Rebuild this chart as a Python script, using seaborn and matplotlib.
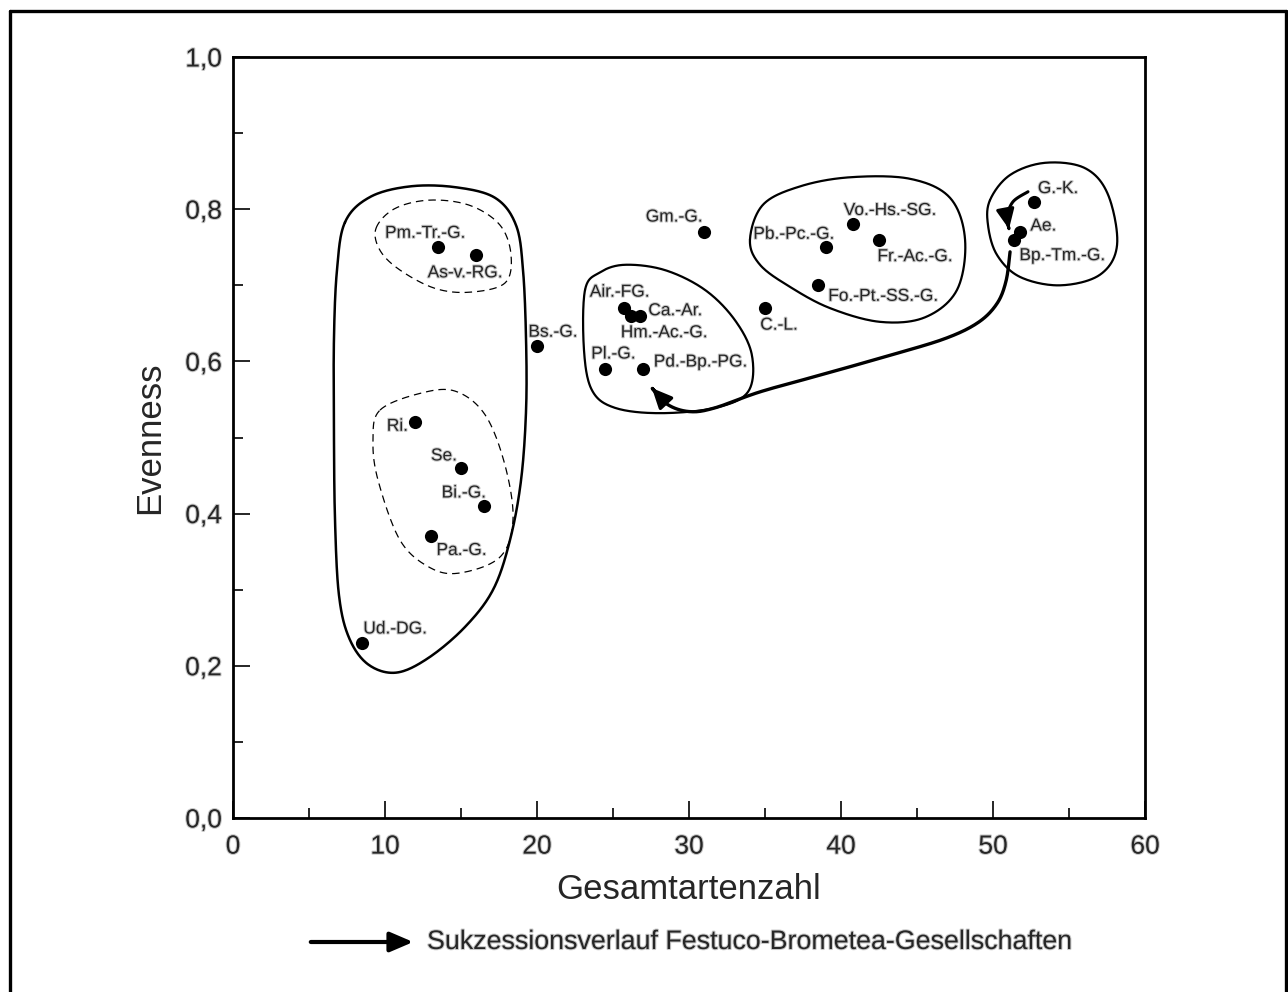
import numpy as np
import pandas as pd
import seaborn as sns
import matplotlib
matplotlib.use("Agg")
from matplotlib import pyplot as plt
from matplotlib.patches import FancyArrowPatch
from matplotlib.path import Path
from matplotlib.lines import Line2D
from matplotlib.ticker import FuncFormatter, MultipleLocator
import matplotlib.patheffects as pe

# Gesellschaften: Gesamtartenzahl / Evenness
names = ["Pm.-Tr.-G.", "As-v.-RG.", "Ri.", "Se.", "Bi.-G.", "Pa.-G.", "Ud.-DG.",
         "Bs.-G.", "Air.-FG.", "Ca.-Ar.", "Hm.-Ac.-G.", "Pl.-G.", "Pd.-Bp.-PG.",
         "Gm.-G.", "C.-L.", "Pb.-Pc.-G.", "Vo.-Hs.-SG.", "Fr.-Ac.-G.", "Fo.-Pt.-SS.-G.",
         "G.-K.", "Ae.", "Bp.-Tm.-G."]
artenzahl = [13.5, 16.0, 12.0, 15.0, 16.5, 13.0, 8.5,
             20.0, 25.7, 26.8, 26.2, 24.5, 27.0,
             31.0, 35.0, 39.0, 40.8, 42.5, 38.5,
             52.7, 51.8, 51.4]
evenness = [0.75, 0.74, 0.52, 0.46, 0.41, 0.37, 0.23,
            0.62, 0.67, 0.66, 0.66, 0.59, 0.59,
            0.77, 0.67, 0.75, 0.78, 0.76, 0.70,
            0.81, 0.77, 0.76]

# label offsets (pixels) relative to the dot
label_off = [(-13, 14), (-11, -18), (-18, -4), (-17, 12), (-20, 13), (31, -14), (33, 14),
             (16, 14), (-4, 16), (35, 5), (33, -17), (8, 15), (57, 7),
             (-30, 15), (14, -17), (-32, 13), (37, 14), (36, -17), (65, -11),
             (24, 13), (23, 6), (48, -16)]

# outlines of the groups (data units)
big_loop_x = [7.37, 9.01, 11.64, 14.61, 17.24, 18.62, 19.08, 19.28, 19.28, 18.95, 18.22,
              17.11, 15.26, 12.83, 10.72, 8.88, 7.63, 6.97, 6.71, 6.64, 6.64, 6.84]
big_loop_y = [0.783, 0.816, 0.830, 0.829, 0.815, 0.779, 0.720, 0.628, 0.536, 0.444, 0.365,
              0.300, 0.251, 0.210, 0.191, 0.202, 0.237, 0.293, 0.392, 0.510, 0.628, 0.720]
dash_top_x = [9.41, 10.66, 12.96, 15.59, 17.57, 18.29, 17.89, 15.59, 13.29, 10.99, 9.67]
dash_top_y = [0.775, 0.801, 0.812, 0.805, 0.779, 0.740, 0.703, 0.691, 0.696, 0.720, 0.746]
dash_bot_x = [9.67, 12.30, 14.61, 16.58, 17.89, 18.42, 17.57, 14.93, 12.96, 10.99, 9.54, 9.21]
dash_bot_y = [0.536, 0.558, 0.561, 0.530, 0.464, 0.392, 0.343, 0.322, 0.329, 0.365, 0.444, 0.497]
mid_loop_x = [23.16, 24.14, 25.79, 28.42, 31.05, 33.03, 34.14, 33.88, 31.71, 28.09, 25.13, 23.62, 23.09]
mid_loop_y = [0.694, 0.717, 0.727, 0.720, 0.694, 0.654, 0.608, 0.560, 0.539, 0.532, 0.539, 0.562, 0.615]
right_loop_x = [34.01, 34.87, 37.30, 40.59, 44.54, 47.17, 48.16, 47.63, 45.53, 42.57, 39.28, 36.64, 34.67]
right_loop_y = [0.760, 0.806, 0.830, 0.842, 0.840, 0.815, 0.760, 0.694, 0.658, 0.652, 0.670, 0.698, 0.727]
far_loop_x = [49.80, 51.12, 53.42, 56.05, 57.57, 58.16, 57.04, 54.41, 51.78, 50.26, 49.67]
far_loop_y = [0.812, 0.845, 0.861, 0.854, 0.819, 0.753, 0.714, 0.700, 0.711, 0.740, 0.779]

# succession path (Bp.-Tm.-G. -> Pd.-Bp.-PG.) and short arrow (G.-K. -> Bp.-Tm.-G.)
path_x = [51.12, 50.86, 50.26, 49.01, 46.84, 43.22, 38.62, 34.67, 31.71, 30.07, 28.62, 27.56]
path_y = [0.744, 0.706, 0.676, 0.651, 0.630, 0.608, 0.582, 0.560, 0.539, 0.534, 0.543, 0.565]
short_x = [52.30, 51.32, 50.92, 51.05]
short_y = [0.823, 0.810, 0.790, 0.774]

df = pd.DataFrame({"name": names, "Gesamtartenzahl": artenzahl, "Evenness": evenness})


def catmull(xs, ys, closed=True, n=24):
    P = np.column_stack([xs, ys])
    m = len(P)
    if not closed:
        P = np.vstack([P[0], P, P[-1]])
    segs = []
    rng = range(m) if closed else range(1, m)
    t = np.linspace(0, 1, n, endpoint=False)[:, None]
    for i in rng:
        if closed:
            p0, p1, p2, p3 = P[(i - 1) % m], P[i], P[(i + 1) % m], P[(i + 2) % m]
        else:
            p0, p1, p2, p3 = P[i - 1], P[i], P[i + 1], P[i + 2]
        segs.append(0.5 * (2 * p1 + (-p0 + p2) * t + (2 * p0 - 5 * p1 + 4 * p2 - p3) * t ** 2
                           + (-p0 + 3 * p1 - 3 * p2 + p3) * t ** 3))
    out = np.vstack(segs)
    end = P[0] if closed else P[-2]
    return np.vstack([out, end])


sns.set_style("ticks")
plt.rcParams["font.family"] = ["Liberation Sans", "DejaVu Sans"]

fig = plt.figure(figsize=(12.88, 9.92), dpi=100)
ax = fig.add_axes([0.1809, 0.1754, 0.7081, 0.7671])

sns.scatterplot(data=df, x="Gesamtartenzahl", y="Evenness", color="black", s=90,
                linewidth=0, legend=False, ax=ax, zorder=5)

halo = [pe.withStroke(linewidth=1.5, foreground="#c8c8c8")]
for nm, xv, yv, off in zip(names, artenzahl, evenness, label_off):
    ax.annotate(nm, (xv, yv), xytext=off, textcoords="offset pixels", ha="center",
                va="center", fontsize=12.5, path_effects=halo, zorder=6)

for xs, ys, ls, lw in [(big_loop_x, big_loop_y, "-", 1.8),
                       (dash_top_x, dash_top_y, (0, (6, 4)), 0.9),
                       (dash_bot_x, dash_bot_y, (0, (6, 4)), 0.9),
                       (mid_loop_x, mid_loop_y, "-", 1.6),
                       (right_loop_x, right_loop_y, "-", 1.6),
                       (far_loop_x, far_loop_y, "-", 1.6)]:
    c = catmull(xs, ys)
    ax.plot(c[:, 0], c[:, 1], color="black", linestyle=ls, linewidth=lw)

for xs, ys, lw in [(path_x, path_y, 2.4), (short_x, short_y, 2.2)]:
    c = catmull(xs, ys, closed=False)
    ax.add_patch(FancyArrowPatch(path=Path(c), arrowstyle="-|>,head_length=12,head_width=5.5",
                                 color="black", linewidth=lw, mutation_scale=1, zorder=4))

ax.set_xlim(0, 60)
ax.set_ylim(0, 1.0)
ax.xaxis.set_major_locator(MultipleLocator(10))
ax.xaxis.set_minor_locator(MultipleLocator(5))
ax.yaxis.set_major_locator(MultipleLocator(0.2))
ax.yaxis.set_minor_locator(MultipleLocator(0.1))
ax.yaxis.set_major_formatter(FuncFormatter(lambda v, p: f"{v:.1f}".replace(".", ",")))
ax.tick_params(which="major", direction="in", length=12, width=1.4, labelsize=19,
               top=False, right=False)
ax.tick_params(which="minor", direction="in", length=7, width=1.4, top=False, right=False)
ax.tick_params(axis="x", which="major", pad=12)
ax.tick_params(axis="y", which="major", pad=8)
for lab in ax.get_xticklabels() + ax.get_yticklabels():
    lab.set_path_effects(halo)
for sp in ax.spines.values():
    sp.set_linewidth(2)
    sp.set_color("black")
ax.set_xlabel("Gesamtartenzahl", fontsize=25, labelpad=10)
ax.set_ylabel("Evenness", fontsize=25, labelpad=14)

# legend arrow below the plot
yl = 1 - 942 / 992
fig.patches.append(FancyArrowPatch((308 / 1288, yl), (416 / 1288, yl), transform=fig.transFigure,
                                   arrowstyle="-|>,head_length=14,head_width=6", color="black",
                                   linewidth=3, mutation_scale=1))
fig.text(427 / 1288, yl, "Sukzessionsverlauf Festuco-Brometea-Gesellschaften", fontsize=19.3,
         ha="left", va="center", path_effects=halo)

# outer frame
for xs_, ys_ in [([10 / 1288, 10 / 1288], [0, 1 - 11 / 992]),
                 ([10 / 1288, 1286 / 1288], [1 - 11 / 992, 1 - 11 / 992]),
                 ([1286 / 1288, 1286 / 1288], [1 - 11 / 992, 0])]:
    fig.add_artist(Line2D(xs_, ys_, transform=fig.transFigure, color="black", linewidth=2.4))

fig.savefig("out.png", dpi=100, facecolor="white")
